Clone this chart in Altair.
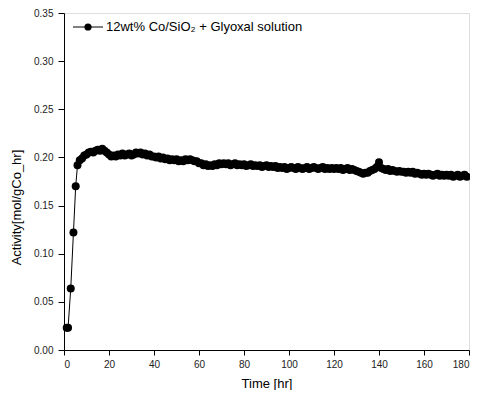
import altair as alt
import pandas as pd

# --- data ---
early_time = [1.2, 1.8, 3.0, 4.2, 5.2, 6.0]
early_activity = [0.023, 0.023, 0.064, 0.122, 0.170, 0.192]

late_time = list(range(7, 180))
late_activity = [
    0.197, 0.199, 0.202, 0.203,
    0.205, 0.206, 0.205, 0.207, 0.208, 0.207, 0.209, 0.207, 0.205, 0.203,
    0.201, 0.202, 0.201, 0.203, 0.202, 0.204, 0.202, 0.203, 0.204, 0.202,
    0.203, 0.205, 0.204, 0.205, 0.203, 0.204, 0.202, 0.203, 0.201, 0.201,
    0.200, 0.201, 0.199, 0.200, 0.198, 0.199, 0.197, 0.198, 0.197, 0.198,
    0.196, 0.197, 0.196, 0.198, 0.197, 0.198, 0.197, 0.196, 0.196, 0.194,
    0.194, 0.192, 0.193, 0.191, 0.192, 0.191, 0.193, 0.192, 0.194, 0.193,
    0.194, 0.193, 0.194, 0.192, 0.193, 0.194, 0.192, 0.193, 0.192, 0.193,
    0.191, 0.192, 0.193, 0.191, 0.192, 0.191, 0.192, 0.190, 0.191, 0.192,
    0.190, 0.191, 0.190, 0.191, 0.189, 0.190, 0.189, 0.190, 0.188, 0.189,
    0.190, 0.189, 0.188, 0.190, 0.189, 0.188, 0.189, 0.190, 0.188, 0.189,
    0.190, 0.189, 0.188, 0.189, 0.190, 0.188, 0.189, 0.188, 0.189, 0.188,
    0.189, 0.188, 0.189, 0.187, 0.188, 0.189, 0.187, 0.188, 0.187, 0.186,
    0.185, 0.184, 0.183, 0.184, 0.184, 0.186, 0.187, 0.188, 0.190, 0.195,
    0.189, 0.188, 0.187, 0.188, 0.186, 0.187, 0.186, 0.185, 0.186, 0.185,
    0.185, 0.184, 0.185, 0.184, 0.185, 0.183, 0.184, 0.183, 0.182, 0.183,
    0.182, 0.183, 0.182, 0.181, 0.182, 0.183, 0.181, 0.182, 0.181, 0.182,
    0.181, 0.182, 0.180, 0.181, 0.182, 0.180, 0.181, 0.182, 0.180,
]

x_ticks = [0, 10, 20, 30, 40, 50, 60, 70, 80, 90, 100, 110, 120, 130, 140, 150, 160, 170, 180]
y_ticks = [0.0, 0.025, 0.05, 0.075, 0.1, 0.125, 0.15, 0.175, 0.2, 0.225, 0.25, 0.275, 0.3, 0.325, 0.35]
legend_label = "12wt% Co/SiO\u2082 + Glyoxal solution"

df = pd.DataFrame({
    "time": early_time + late_time,
    "activity": early_activity + late_activity,
})

FONT = "Liberation Sans"

x_enc = alt.X(
    "time:Q",
    scale=alt.Scale(domain=[0, 180], nice=False, zero=False),
    axis=alt.Axis(
        title="Time [hr]",
        values=x_ticks,
        labelExpr="datum.value % 20 === 0 ? datum.label : ''",
        tickSize={"condition": {"test": "datum.value % 20 === 0", "value": 5}, "value": 3},
        grid=False,
        domainColor="black",
        tickColor="black",
        labelColor="#222222",
        labelFont=FONT,
        labelFontSize=10,
        labelPadding=4,
        titleFont=FONT,
        titleFontSize=13,
        titleFontWeight="normal",
        titleColor="black",
        titlePadding=8,
    ),
)
y_enc = alt.Y(
    "activity:Q",
    scale=alt.Scale(domain=[0, 0.35], nice=False, zero=False),
    axis=alt.Axis(
        title="Activity[mol/gCo_hr]",
        values=y_ticks,
        format=".2f",
        labelExpr="round(datum.value * 1000) % 50 === 0 ? datum.label : ''",
        tickSize={"condition": {"test": "round(datum.value * 1000) % 50 === 0", "value": 6}, "value": 3},
        grid=False,
        domainColor="black",
        tickColor="black",
        labelColor="#222222",
        labelFont=FONT,
        labelFontSize=10,
        labelPadding=5,
        titleFont=FONT,
        titleFontSize=13,
        titleFontWeight="normal",
        titleColor="black",
        titleBaseline="middle",
        titleX=-48,
        titleY=194,
    ),
)

base = alt.Chart(df)
line = base.mark_line(color="black", strokeWidth=1).encode(x=x_enc, y=y_enc)
points = base.mark_point(filled=True, color="black", size=64, opacity=1, shape="circle").encode(
    x="time:Q", y="activity:Q"
)

# legend (inside plot, top-left)
leg_df = pd.DataFrame({"label": [legend_label]})
leg_base = alt.Chart(leg_df)
leg_line = leg_base.mark_rule(color="black", strokeWidth=1).encode(
    x=alt.value(9), x2=alt.value(39), y=alt.value(14)
)
leg_pt = leg_base.mark_point(filled=True, color="black", size=52, opacity=1).encode(
    x=alt.value(24), y=alt.value(14)
)
leg_text = leg_base.mark_text(
    align="left", baseline="middle", font=FONT, fontSize=13, color="black"
).encode(x=alt.value(42), y=alt.value(14), text="label:N")

chart = (
    alt.layer(line, points, leg_line, leg_pt, leg_text)
    .properties(
        width=405,
        height=337,
        autosize=alt.AutoSizeParams(type="none"),
        padding={"left": 56, "top": 5, "right": 1, "bottom": 40},
    )
    .configure_view(stroke="black", strokeWidth=1)
    .configure(background="white")
)

chart.save("out.html", embed_options={"renderer": "svg", "actions": False})
